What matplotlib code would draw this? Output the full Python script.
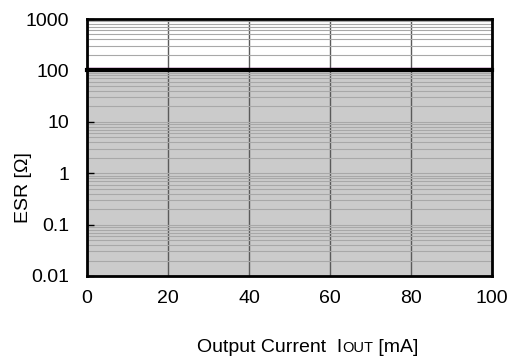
import numpy as np
import matplotlib.pyplot as plt
import matplotlib.transforms as mtransforms
from matplotlib.ticker import LogLocator, NullFormatter

plt.rcParams['font.family'] = ['Liberation Sans', 'DejaVu Sans']

# stable region boundary: ESR upper limit vs output current
iout = [0, 100]
esr_max = [100, 100]
esr_min = [0.01, 0.01]

x_ticks = [0, 20, 40, 60, 80, 100]
y_ticks = [0.01, 0.1, 1, 10, 100, 1000]
y_labels = ['0.01', '0.1', '1', '10', '100', '1000']

fig = plt.figure(figsize=(5.11, 3.56), dpi=100)
ax = fig.add_axes([87 / 511, 1 - 276 / 356, 405 / 511, 257 / 356])

ax.set_yscale('log')
ax.set_xlim(0, 100)
ax.set_ylim(0.01, 1000)

ax.fill_between(iout, esr_min, esr_max, color='#cbcbcb', zorder=0, lw=0)

ax.yaxis.set_minor_locator(LogLocator(base=10, subs=np.arange(2, 10)))
ax.yaxis.set_minor_formatter(NullFormatter())
ax.yaxis.grid(True, which='minor', color='#a8a8a8', lw=0.8, zorder=1)
ax.yaxis.grid(True, which='major', color='#a8a8a8', lw=0.8, zorder=1)
ax.xaxis.grid(True, which='major', color='#5a5a5a', lw=1.0, zorder=1)

# purple trace just above the thick black boundary
off = mtransforms.offset_copy(ax.transData, fig=fig, x=0, y=2.0, units='points')
ax.plot(iout, esr_max, color='#800080', lw=1.0, transform=off, zorder=3, clip_on=False)
ax.plot(iout, esr_max, color='black', lw=3.0, zorder=4, clip_on=False)

ax.set_xticks(x_ticks)
ax.set_xticklabels([str(v) for v in x_ticks], fontsize=14)
ax.set_yticks(y_ticks)
ax.set_yticklabels(y_labels, fontsize=14)
ax.tick_params(axis='y', which='minor', length=0)
ax.tick_params(axis='y', which='major', direction='in', length=5, width=1, pad=13)
ax.tick_params(axis='x', length=0, pad=10)

for s in ax.spines.values():
    s.set_linewidth(2)
    s.set_zorder(5)

fig.text(24 / 511, 1 - 188 / 356, 'ESR [Ω]', fontsize=14, rotation=90,
         ha='center', va='center')

# x label with small-caps "OUT"
fig.canvas.draw()
r = fig.canvas.get_renderer()
y0 = 1 - 352 / 356
parts = [('Output Current  I', 14), ('OUT', 10.5), (' [mA]', 14)]
widths = []
for s, fs in parts:
    t = fig.text(0, y0, s, fontsize=fs)
    widths.append(t.get_window_extent(r).width / fig.bbox.width)
    t.remove()
x = 308 / 511 - sum(widths) / 2
for (s, fs), w in zip(parts, widths):
    fig.text(x, y0, s, fontsize=fs, va='baseline')
    x += w

fig.savefig('out.png', dpi=100)
